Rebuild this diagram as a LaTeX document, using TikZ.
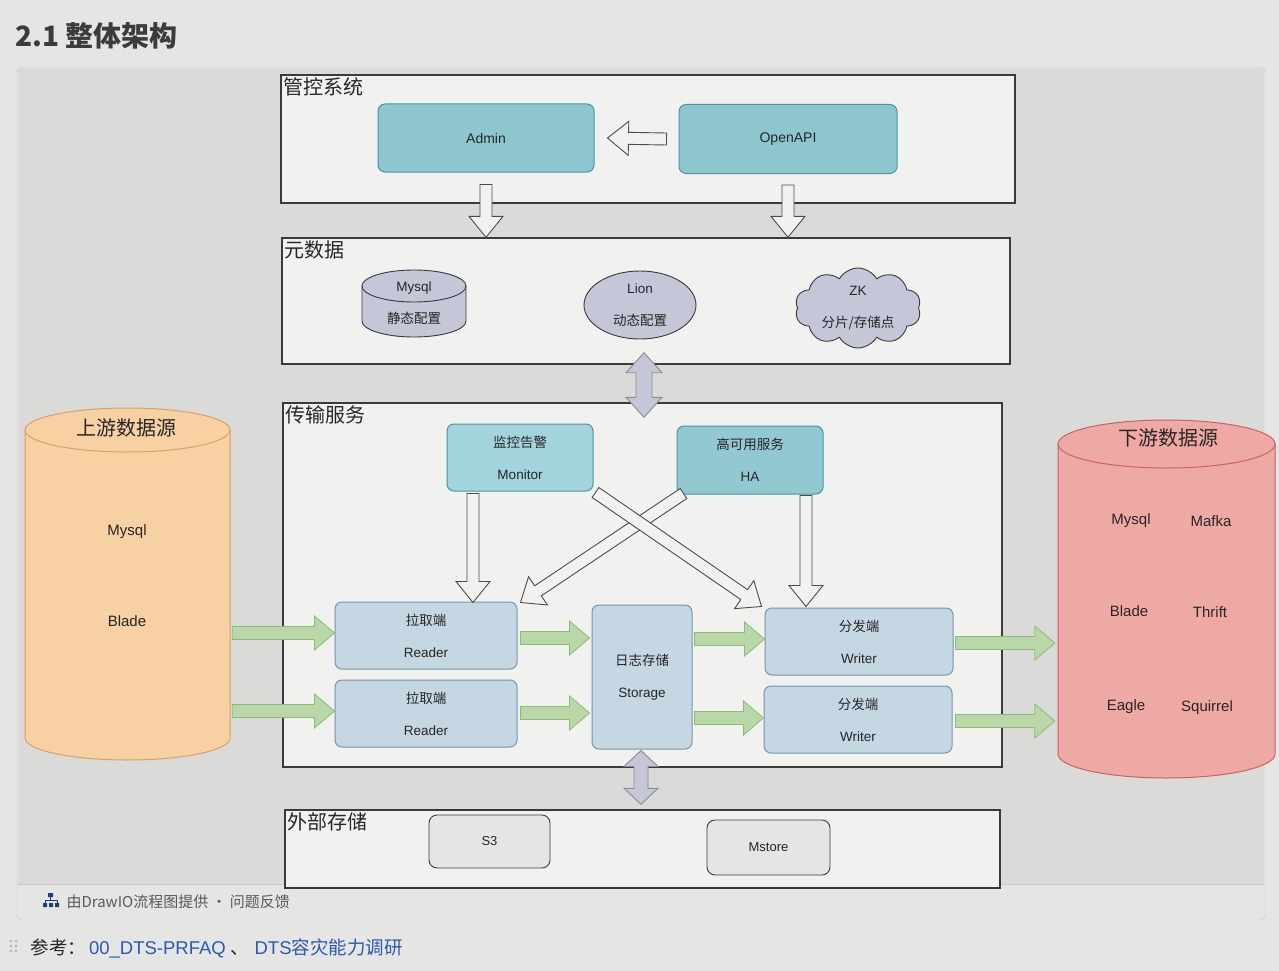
\documentclass[tikz,border=0pt]{standalone}
\usepackage{fontspec}
\setmainfont{Liberation Sans}
\newfontfamily\cjk{Noto Sans CJK SC}
\usepackage{xcolor}
\usetikzlibrary{calc, positioning, shapes.geometric, shapes.symbols}

\definecolor{pagebg}{HTML}{E5E5E3}
\definecolor{panelbg}{HTML}{DADAD8}
\definecolor{sectbg}{HTML}{F1F1EF}
\definecolor{frame}{HTML}{3A3A3A}
\definecolor{ink}{HTML}{262626}
\definecolor{tealfill}{HTML}{8EC6D0}
\definecolor{tealline}{HTML}{4E93A4}
\definecolor{svcfill}{HTML}{A3D4DE}
\definecolor{workfill}{HTML}{C4D7E3}
\definecolor{workline}{HTML}{7496AE}
\definecolor{lavfill}{HTML}{C5C6D8}
\definecolor{greenfill}{HTML}{BAD8A7}
\definecolor{greenline}{HTML}{8DBB74}
\definecolor{upfill}{HTML}{F7D0A4}
\definecolor{upline}{HTML}{D9A160}
\definecolor{downfill}{HTML}{EFA9A4}
\definecolor{downline}{HTML}{C96262}
\definecolor{link}{HTML}{2D58B0}

% block arrow: style, from, to, half shaft, half head, head length
\newcommand\blockarrow[6]{%
  \coordinate (ba-s) at (#2);
  \coordinate (ba-e) at (#3);
  \coordinate (ba-h) at ($(ba-e)!#6!(ba-s)$);
  \draw[#1] ($(ba-s)!#4!90:(ba-e)$) -- ($(ba-h)!#4!-90:(ba-s)$)
    -- ($(ba-h)!#5!-90:(ba-s)$) -- (ba-e) -- ($(ba-h)!#5!90:(ba-s)$)
    -- ($(ba-h)!#4!90:(ba-s)$) -- ($(ba-s)!#4!-90:(ba-e)$) -- cycle;}
% two headed block arrow
\newcommand\dblarrow[6]{%
  \coordinate (da-a) at (#2);
  \coordinate (da-b) at (#3);
  \coordinate (da-ha) at ($(da-a)!#6!(da-b)$);
  \coordinate (da-hb) at ($(da-b)!#6!(da-a)$);
  \draw[#1] (da-a) -- ($(da-ha)!#5!90:(da-b)$) -- ($(da-ha)!#4!90:(da-b)$)
    -- ($(da-hb)!#4!-90:(da-a)$) -- ($(da-hb)!#5!-90:(da-a)$) -- (da-b)
    -- ($(da-hb)!#5!90:(da-a)$) -- ($(da-hb)!#4!90:(da-a)$)
    -- ($(da-ha)!#4!-90:(da-b)$) -- ($(da-ha)!#5!-90:(da-b)$) -- cycle;}
\newcommand\hollow[2]{\blockarrow{hollowar}{#1}{#2}{6pt}{17pt}{21pt}}
\newcommand\flow[2]{\blockarrow{flowar}{#1}{#2}{6.5pt}{17pt}{20pt}}
% cylinder: style, cx, cy, half width, half height, cap
\newcommand\drum[6]{%
  \draw[#1] (#2-#4,#3-#5+#6) -- (#2-#4,#3+#5-#6)
    arc[start angle=180, end angle=360, x radius=#4pt, y radius=#6pt]
    -- (#2+#4,#3-#5+#6)
    arc[start angle=0, end angle=180, x radius=#4pt, y radius=#6pt] -- cycle;
  \draw[#1, fill=none] (#2-#4,#3-#5+#6)
    arc[start angle=180, end angle=360, x radius=#4pt, y radius=#6pt];}

\begin{document}
\begin{tikzpicture}[x=1pt, y=-1pt,
    sect/.style = {draw=frame, fill=sectbg, line width=1.4pt, inner sep=0pt},
    sectname/.style = {font=\cjk\fontsize{20}{22}\selectfont, text=ink, anchor=north west, inner sep=3pt},
    mgmt/.style = {draw=tealline, fill=tealfill, line width=1pt, rounded corners=7pt,
                   font=\fontsize{14}{16}\selectfont, text=ink},
    svc/.style = {mgmt, fill=svcfill, align=center, font=\fontsize{13.5}{32}\selectfont},
    worker/.style = {draw=workline, fill=workfill, line width=1pt, rounded corners=7pt,
                     align=center, font=\fontsize{13.5}{32}\selectfont, text=ink},
    meta/.style = {draw=frame, fill=lavfill, line width=0.9pt, align=center,
                   font=\fontsize{13.5}{32}\selectfont, text=ink},
    store/.style = {draw=frame, fill=pagebg, line width=0.9pt, rounded corners=8pt,
                    font=\fontsize{13}{15}\selectfont, text=ink},
    dbtext/.style = {font=\fontsize{15}{17}\selectfont, text=ink},
    hollowar/.style = {draw=black!70, fill=sectbg, line width=0.9pt, line join=miter},
    flowar/.style = {draw=greenline, fill=greenfill, line width=0.8pt},
    twoway/.style = {draw=black!45, fill=lavfill, line width=0.9pt}]

\fill[pagebg] (0,0) rectangle (1279,971);
\useasboundingbox (0,0) rectangle (1279,971);

% page around the drawing
\node[anchor=west, font=\cjk\bfseries\fontsize{28}{30}\selectfont, text=ink!90] (head) at (12,36) {2.1 整体架构};
\draw[black!22, fill=pagebg, rounded corners=5pt] (17,67) rectangle (1265,920);
\fill[panelbg] (18,68) rectangle (1264,884);
\draw[black!22] (18,884) -- (1264,884);

% 管控系统
\node[sect, minimum width=734pt, minimum height=128pt] (ctl) at (648,139) {};
\node[sectname] (ctl-t) at (ctl.north west) {管控系统};
\node[mgmt, minimum width=216pt, minimum height=68pt] (admin) at (486,138) {Admin};
\node[mgmt, minimum width=218pt, minimum height=69pt] (openapi) at (788,139) {OpenAPI};

% 元数据
\node[sect, minimum width=728pt, minimum height=126pt] (meta) at (646,301) {};
\node[sectname] (meta-t) at (meta.north west) {元数据};
\drum{meta}{414}{303.5}{52}{33.5}{16}
\node[dbtext, align=center, font=\fontsize{13.5}{32}\selectfont] (mysql) at (414,303) {Mysql\\{\cjk 静态配置}};
\node[meta, ellipse, minimum width=112pt, minimum height=68pt, inner sep=0pt] (lion) at (640,305) {Lion\\{\cjk 动态配置}};
\node[meta, cloud, cloud puffs=10, cloud puff arc=120, aspect=1.6, minimum width=126pt,
      minimum height=80pt, inner sep=0pt] (zk) at (858,308) {ZK\\{\cjk 分片/存储点}};

% 传输服务
\node[sect, minimum width=719pt, minimum height=364pt] (xfer) at (642.5,585) {};
\node[sectname] (xfer-t) at (xfer.north west) {传输服务};
\node[svc, minimum width=146pt, minimum height=67pt] (monitor) at (520,457.5) {{\cjk 监控告警}\\Monitor};
\node[svc, fill=tealfill!85!svcfill, minimum width=146pt, minimum height=68pt] (ha) at (750,460) {{\cjk 高可用服务}\\HA};
\node[worker, minimum width=182pt, minimum height=67pt] (reader1) at (426,635.5) {{\cjk 拉取端}\\Reader};
\node[worker, minimum width=182pt, minimum height=67pt] (reader2) at (426,713.5) {{\cjk 拉取端}\\Reader};
\node[worker, minimum width=100pt, minimum height=144pt] (storage) at (642,677) {{\cjk 日志存储}\\Storage};
\node[worker, minimum width=188pt, minimum height=67pt] (writer1) at (859,641.5) {{\cjk 分发端}\\Writer};
\node[worker, minimum width=188pt, minimum height=67pt] (writer2) at (858,719.5) {{\cjk 分发端}\\Writer};

% 外部存储
\node[sect, minimum width=715pt, minimum height=78pt] (ext) at (642.5,849) {};
\node[sectname] (ext-t) at (ext.north west) {外部存储};
\node[store, minimum width=121pt, minimum height=53pt] (s3) at (489.5,841.5) {S3};
\node[store, minimum width=123pt, minimum height=55pt] (mstore) at (768.5,847.5) {Mstore};

% 上游 / 下游
\node[minimum width=205pt, minimum height=352pt, inner sep=0pt] (up) at (127.5,584) {};
\drum{draw=upline, fill=upfill, line width=1pt}{127.5}{584}{102.5}{176}{22}
\node[font=\cjk\fontsize{20}{22}\selectfont, text=ink] (up-t) at (126,428) {上游数据源};
\node[dbtext] (up-mysql) at (127,532) {Mysql};
\node[dbtext] (up-blade) at (127,621) {Blade};

\node[minimum width=217pt, minimum height=358pt, inner sep=0pt] (down) at (1166.5,599) {};
\drum{draw=downline, fill=downfill, line width=1pt}{1166.5}{599}{108.5}{179}{24}
\node[font=\cjk\fontsize{20}{22}\selectfont, text=ink] (down-t) at (1168,438) {下游数据源};
\node[dbtext] (dn-mysql) at (1131,521) {Mysql};
\node[dbtext] (dn-mafka) at (1211,521) {Mafka};
\node[dbtext] (dn-blade) at (1129,611) {Blade};
\node[dbtext] (dn-thrift) at (1210,612) {Thrift};
\node[dbtext] (dn-eagle) at (1126,707) {Eagle};
\node[dbtext] (dn-squirrel) at (1207,708) {Squirrel};

% control arrows
\hollow{$(openapi.west)+(-12,0)$}{$(admin.east)+(13,0)$}
\hollow{$(admin.south)+(0,12)$}{admin.south |- meta.north}
\hollow{$(openapi.south)+(0,11)$}{openapi.south |- meta.north}
\hollow{$(monitor.south)+(-47,2)$}{$(reader1.north)+(47,1)$}
\hollow{$(ha.south)+(56,1)$}{$(writer1.north)+(-53,-1)$}
\hollow{$(ha.south west)+(7,-1)$}{$(reader1.north east)+(3,1)$}
\hollow{$(monitor.south east)+(2,1)$}{$(writer1.north west)+(-3,-1)$}
\dblarrow{twoway}{$(meta.south)+(-2,-12)$}{$(xfer.north)+(1.5,15)$}{8pt}{18pt}{20pt}
\dblarrow{twoway}{$(storage.south)+(-1,1)$}{$(ext.north)+(-1.5,-5)$}{7pt}{17pt}{16pt}

% data flow
\flow{$(up.east)+(2,49)$}{$(reader1.west)+(0,-2.5)$}
\flow{$(up.east)+(2,127)$}{$(reader2.west)+(0,-2.5)$}
\flow{$(reader1.east)+(3,2.5)$}{$(storage.west |- reader1.east)+(-2,2.5)$}
\flow{$(reader2.east)+(3,-0.5)$}{$(storage.west |- reader2.east)+(-2,-0.5)$}
\flow{$(storage.east |- writer1.west)+(2,-2.5)$}{$(writer1.west)+(0,-2.5)$}
\flow{$(storage.east |- writer2.west)+(2,-1.5)$}{$(writer2.west)+(0,-1.5)$}
\flow{$(writer1.east)+(2,1.5)$}{$(down.west |- writer1.east)+(-3,1.5)$}
\flow{$(writer2.east)+(3,1.5)$}{$(down.west |- writer2.east)+(-3,1.5)$}

% footer
\fill[link!70!black] (48,893) rectangle (53,897) (43,903) rectangle (47,907) (49,903) rectangle (53,907) (55,903) rectangle (59,907);
\draw[link!70!black, line width=0.7pt] (50.5,897) -- (50.5,900) (45,903) -- (45,900) -- (57,900) -- (57,903);
\node[anchor=west, font=\cjk\fontsize{15}{17}\selectfont, text=black!65] (credit) at (63,902) {由DrawIO流程图提供 · 问题反馈};
\foreach \dx in {11,16} \foreach \dy in {941,946,951} \fill[black!30] (\dx,\dy) circle (1.3);
\node[anchor=west, font=\fontsize{18.5}{20}\selectfont, text=ink] (ref) at (27,948)
  {{\cjk 参考：}\,\textcolor{link}{00\_DTS-PRFAQ}\ {\cjk 、}\ \textcolor{link}{DTS{\cjk 容灾能力调研}}};
\end{tikzpicture}
\end{document}
